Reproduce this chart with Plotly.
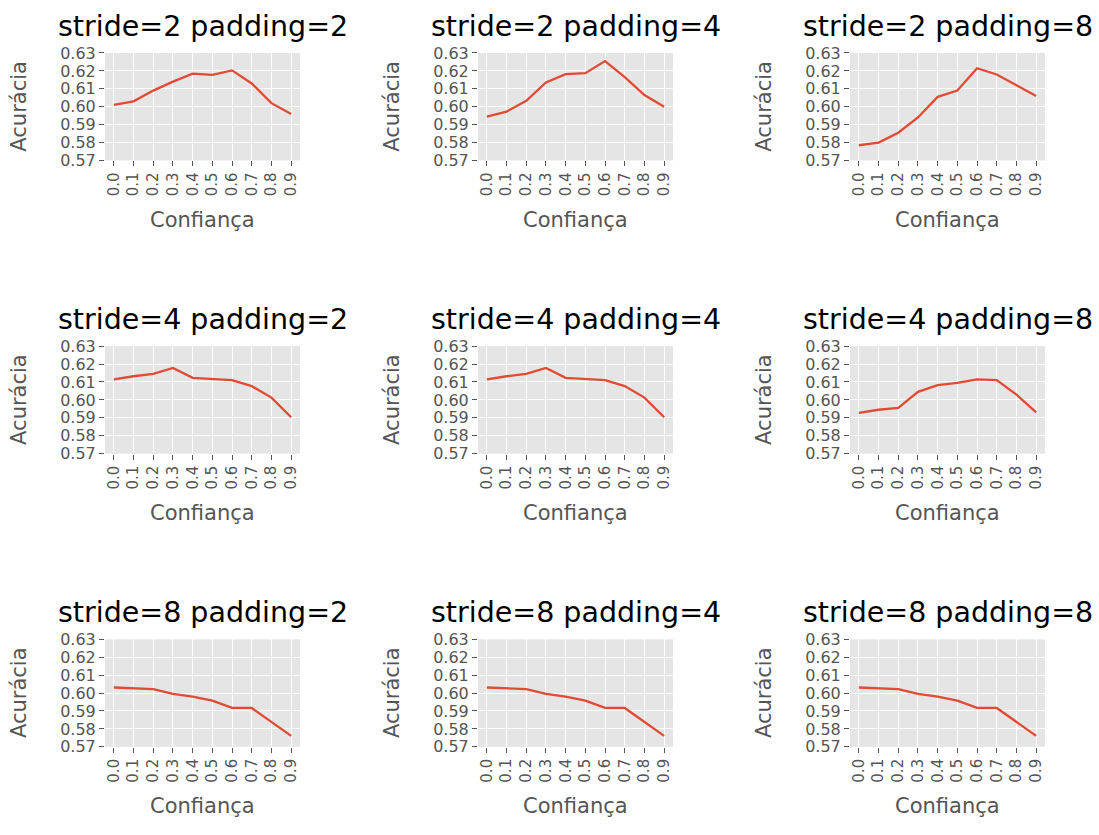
import plotly.graph_objects as go

# ---- data ----
confianca = ["0.0", "0.1", "0.2", "0.3", "0.4", "0.5", "0.6", "0.7", "0.8", "0.9"]
y_ticks = [0.57, 0.58, 0.59, 0.60, 0.61, 0.62, 0.63]
strides = [2, 4, 8]
paddings = [2, 4, 8]

acc_s2_p2 = [0.601, 0.603, 0.609, 0.614, 0.6185, 0.6178, 0.6203, 0.613, 0.602, 0.596]
acc_s2_p4 = [0.5945, 0.5973, 0.6033, 0.6136, 0.6182, 0.6187, 0.6255, 0.6165, 0.6065, 0.600]
acc_s2_p8 = [0.5785, 0.580, 0.5855, 0.594, 0.6055, 0.609, 0.6215, 0.618, 0.612, 0.606]
acc_s4_p2 = [0.6114, 0.6132, 0.6145, 0.6178, 0.6123, 0.6116, 0.611, 0.6077, 0.6013, 0.5903]
acc_s4_p4 = [0.6114, 0.6132, 0.6145, 0.6178, 0.6123, 0.6116, 0.611, 0.6077, 0.6013, 0.5903]
acc_s4_p8 = [0.5927, 0.5945, 0.5955, 0.6045, 0.6082, 0.6095, 0.6115, 0.611, 0.603, 0.593]
acc_s8_p2 = [0.6031, 0.6026, 0.6022, 0.5995, 0.598, 0.5958, 0.5917, 0.5917, 0.5839, 0.5761]
acc_s8_p4 = [0.6031, 0.6026, 0.6022, 0.5995, 0.598, 0.5958, 0.5917, 0.5917, 0.5839, 0.5761]
acc_s8_p8 = [0.6031, 0.6026, 0.6022, 0.5995, 0.598, 0.5958, 0.5917, 0.5917, 0.5839, 0.5761]

series = [
    [acc_s2_p2, acc_s2_p4, acc_s2_p8],
    [acc_s4_p2, acc_s4_p4, acc_s4_p8],
    [acc_s8_p2, acc_s8_p4, acc_s8_p8],
]

# ---- layout geometry (pixels) ----
W, H = 1099, 835
col_left = [105, 478, 850]
plot_w = 195
row_top = [45, 345, 645]
plot_h = 110

FONT = "DejaVu Sans"
GRAY = "#555555"
LINE = "#E24A33"

fig = go.Figure()
layout = dict(
    width=W, height=H,
    margin=dict(l=0, r=0, t=0, b=0),
    paper_bgcolor="white",
    plot_bgcolor="#E5E5E5",
    showlegend=False,
    font=dict(family=FONT, color=GRAY),
)
annotations = []

k = 0
for r in range(3):
    for c in range(3):
        k += 1
        xa = "xaxis" if k == 1 else f"xaxis{k}"
        ya = "yaxis" if k == 1 else f"yaxis{k}"
        xref = "x" if k == 1 else f"x{k}"
        yref = "y" if k == 1 else f"y{k}"
        x0 = col_left[c] / W
        x1 = (col_left[c] + plot_w) / W
        y1 = 1 - row_top[r] / H
        y0 = 1 - (row_top[r] + plot_h) / H
        fig.add_trace(go.Scatter(
            x=confianca, y=series[r][c], mode="lines",
            line=dict(color=LINE, width=2.3),
            xaxis=xref, yaxis=yref,
        ))
        layout[xa] = dict(
            domain=[x0, x1], anchor=yref, type="category",
            range=[-0.45, 9.45],
            tickmode="array", tickvals=confianca, ticktext=confianca,
            tickangle=-90, ticks="outside", ticklen=5, tickwidth=1,
            tickcolor=GRAY, tickfont=dict(family=FONT, size=15, color=GRAY),
            showgrid=True, gridcolor="white", gridwidth=1,
            showline=False, zeroline=False,
        )
        layout[ya] = dict(
            domain=[y0, y1], anchor=xref,
            range=[0.57, 0.63],
            tickmode="array", tickvals=y_ticks,
            ticktext=[f"{v:.2f}" for v in y_ticks],
            ticks="outside", ticklen=5, tickwidth=1,
            tickcolor=GRAY, tickfont=dict(family=FONT, size=16, color=GRAY),
            showgrid=True, gridcolor="white", gridwidth=1,
            showline=False, zeroline=False,
        )
        cx = (col_left[c] + plot_w / 2) / W
        # title
        annotations.append(dict(
            text=f"stride={strides[r]} padding={paddings[c]}",
            x=cx, y=1 - (row_top[r] - 27) / H, xref="paper", yref="paper",
            xanchor="center", yanchor="middle", showarrow=False,
            font=dict(family=FONT, size=28.5, color="black"),
        ))
        # x label
        annotations.append(dict(
            text="Confiança",
            x=cx, y=1 - (row_top[r] + 171) / H, xref="paper", yref="paper",
            xanchor="center", yanchor="middle", showarrow=False,
            font=dict(family=FONT, size=21, color=GRAY),
        ))
        # y label
        annotations.append(dict(
            text="Acurácia", textangle=-90,
            x=(col_left[c] - 86) / W, y=1 - (row_top[r] + plot_h / 2) / H,
            xref="paper", yref="paper",
            xanchor="center", yanchor="middle", showarrow=False,
            font=dict(family=FONT, size=21, color=GRAY),
        ))

layout["annotations"] = annotations
fig.update_layout(**layout)
fig.write_html(
    "out.html",
    config={"displayModeBar": False},
    post_script="document.body.style.margin='0';document.body.style.overflow='hidden';",
)
